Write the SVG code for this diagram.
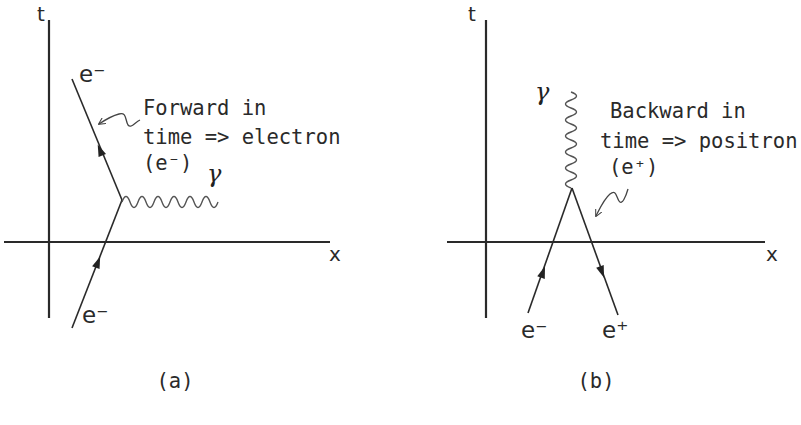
<svg xmlns="http://www.w3.org/2000/svg" xmlns:xlink="http://www.w3.org/1999/xlink" width="801" height="425" viewBox="0 0 801 425">
<style>
.axis{stroke:#2a2a2a;stroke-width:2.2;fill:none}
.line{stroke:#2a2a2a;stroke-width:1.6;fill:none}
.photon{stroke:#555;stroke-width:1.4;fill:none}
.sq{stroke:#444;stroke-width:1.3;fill:none}
.lbl{font-family:"DejaVu Sans Mono","Liberation Mono",monospace;font-size:20.5px;fill:#2a2a2a}
.sym{font-family:"DejaVu Sans","Liberation Sans",sans-serif;font-size:23px;fill:#2a2a2a}
.gam{font-family:"DejaVu Serif","Liberation Serif",serif;font-style:italic;font-size:24px;fill:#222}
.ax{font-family:"DejaVu Sans","Liberation Sans",sans-serif;font-size:20px;fill:#2a2a2a}
</style>
<defs>
<polygon id="ah" points="6,0 -6,-4 -6,4" fill="#222"/>
<marker id="sqa" viewBox="0 0 10 10" refX="9" refY="5" markerWidth="7" markerHeight="7" orient="auto" markerUnits="userSpaceOnUse">
<path d="M0,0 L10,5 L0,10" fill="none" stroke="#444" stroke-width="1.5"/>
</marker>
</defs>
<rect width="801" height="425" fill="#fff"/>

<g id="panel-a">
<g id="axes-a">
<line class="axis" x1="49" y1="20" x2="49" y2="318"/>
<line class="axis" x1="4" y1="242" x2="330" y2="242"/>
<text class="ax" x="37" y="21">t</text>
<text class="ax" x="329" y="261">x</text>
</g>
<g id="connectors-a">
<line class="line" x1="122" y1="200" x2="72" y2="79"/>
<line class="line" x1="72" y1="328" x2="122" y2="200"/>
<use xlink:href="#ah" transform="translate(100,150) rotate(247.5)"/>
<use xlink:href="#ah" transform="translate(98,262) rotate(-68.7)"/>
<path class="photon" d="M122,202 q4,-11 8,0 t8,0 t8,0 t8,0 t8,0 t8,0 t8,0 t8,0 t8,0 t8,0 t8,0 t8,0"/>
<path class="sq" marker-end="url(#sqa)" d="M140,120 C135,122 131,129 128,125 C125,120 127,112 119,114 C111,116 105,120 99,124"/>
</g>
<g id="labels-a">
<text class="sym" x="79" y="82">e⁻</text>
<text class="sym" x="82" y="323">e⁻</text>
<text class="gam" x="207" y="182">γ</text>
<text class="lbl" x="143" y="115">Forward in</text>
<text class="lbl" x="143" y="144">time =&gt; electron</text>
<text class="lbl" x="143" y="170">(e⁻)</text>
<text class="lbl" x="175" y="388" text-anchor="middle" font-size="18">(a)</text>
</g>
</g>

<g id="panel-b">
<g id="axes-b">
<line class="axis" x1="486" y1="20" x2="486" y2="318"/>
<line class="axis" x1="447" y1="242" x2="765" y2="242"/>
<text class="ax" x="468" y="21">t</text>
<text class="ax" x="766" y="261">x</text>
</g>
<g id="connectors-b">
<line class="line" x1="528" y1="313" x2="572" y2="188"/>
<line class="line" x1="572" y1="188" x2="618" y2="315"/>
<use xlink:href="#ah" transform="translate(543,272) rotate(-70.6)"/>
<use xlink:href="#ah" transform="translate(602,272) rotate(70.1)"/>
<path class="photon" d="M571,188 q-11,-4 0,-8 t0,-8 t0,-8 t0,-8 t0,-8 t0,-8 t0,-8 t0,-8 t0,-8 t0,-8 t0,-8 t0,-8"/>
<path class="sq" marker-end="url(#sqa)" d="M628,189 C626,196 622,206 619,201 C616,196 616,189 610,194 C604,199 600,208 596,216"/>
</g>
<g id="labels-b">
<text class="gam" x="535" y="100">γ</text>
<text class="lbl" x="610" y="118">Backward in</text>
<text class="lbl" x="600" y="148">time =&gt; positron</text>
<text class="lbl" x="609" y="174">(e⁺)</text>
<text class="sym" x="521" y="338">e⁻</text>
<text class="sym" x="602" y="338">e⁺</text>
<text class="lbl" x="596" y="388" text-anchor="middle" font-size="18">(b)</text>
</g>
</g>
</svg>
